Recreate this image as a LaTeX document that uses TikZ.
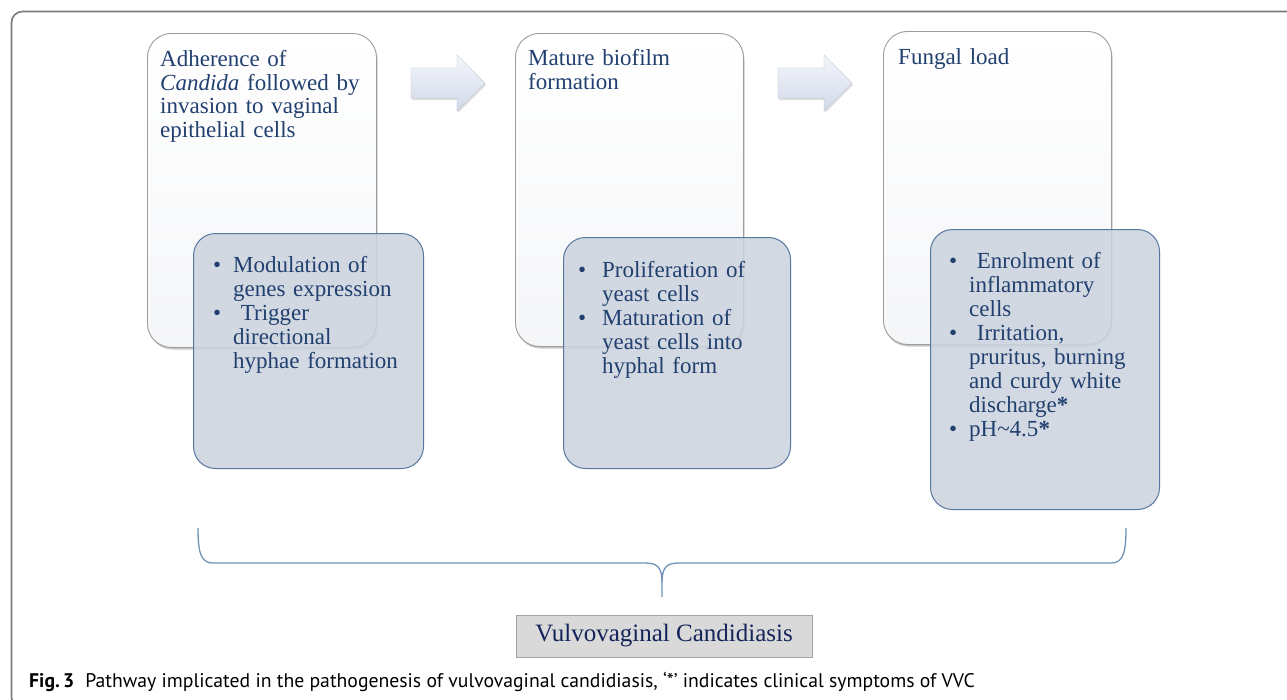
\documentclass[tikz,border=0pt]{standalone}
\usepackage{fontspec}
\setmainfont{Liberation Serif}
\newfontfamily\capfont{PT Sans}
\definecolor{framegray}{HTML}{7A7A7A}
\definecolor{wboxline}{HTML}{9C9C9C}
\definecolor{wboxbot}{HTML}{F5F6F8}
\definecolor{bfill}{HTML}{CDD4DF}
\definecolor{bline}{HTML}{56779E}
\definecolor{txtblue}{HTML}{21406F}
\definecolor{vvcblue}{HTML}{14245A}
\definecolor{arrtop}{HTML}{F4F6FB}
\definecolor{arrbot}{HTML}{D2D9EA}
\definecolor{bracecol}{HTML}{6F93B8}
\definecolor{vvcfill}{HTML}{D9D9D9}
\definecolor{vvcline}{HTML}{A3A3A3}
\tikzset{
  whitebox/.style={draw=wboxline, line width=0.9pt, rounded corners=24pt,
    top color=white, bottom color=wboxbot, anchor=north west, inner sep=0pt},
  wshadow/.style={fill=black, opacity=0.22, rounded corners=24pt},
  bluebox/.style={draw=bline, line width=1pt, rounded corners=22pt,
    fill=bfill, fill opacity=0.88, anchor=north west, inner sep=0pt},
  toptext/.style={anchor=base west, inner sep=0pt, text width=215pt, align=left,
    text=txtblue, font=\fontsize{23}{23.5}\selectfont},
  bultext/.style={anchor=base west, inner sep=0pt, text width=200pt, align=left,
    text=txtblue, font=\fontsize{23}{24}\selectfont},
  blockarrow/.style={draw=arrbot!85!black, line width=0.3pt, top color=arrtop, bottom color=arrbot},
  bracestyle/.style={draw=bracecol, line width=1.3pt},
  vvcbox/.style={draw=vvcline, line width=1pt, fill=vvcfill, minimum width=296pt,
    minimum height=42pt, inner sep=0pt, text=vvcblue, font=\fontsize{25}{27}\selectfont},
  captext/.style={anchor=base west, inner sep=0pt, font=\capfont\fontsize{19.7}{22}\selectfont, text=black}
}
\newcommand{\bul}[1]{\leavevmode\llap{\textbullet\hspace{#1}}}
\begin{document}
\begin{tikzpicture}[x=1pt,y=-1pt]
\useasboundingbox (0,0) rectangle (1287,699);
\fill[white] (0,0) rectangle (1287,699);
% outer frame
\draw[framegray, line width=1.6pt, rounded corners=11pt] (1295,11.5) -- (11.5,11.5) -- (11.5,708) -- (40,708);

% white boxes (shadows first)
\fill[wshadow] (148.5,35.5) rectangle (377.5,349.5);
\fill[wshadow] (516.5,35.5) rectangle (744.5,348.5);
\fill[wshadow] (884.5,33.5) rectangle (1112.5,346.5);
\node[whitebox, minimum width=229pt, minimum height=314pt] (w1) at (147,33) {};
\node[whitebox, minimum width=228pt, minimum height=313pt] (w2) at (515,33) {};
\node[whitebox, minimum width=228pt, minimum height=313pt] (w3) at (883,31) {};

\node[toptext] (t1) at (160,66.5) {Adherence of\\\textit{Candida} followed by\\invasion to vaginal\\epithelial cells};
\node[toptext] (t2) at (528,65.5) {Mature biofilm\\formation};
\node[toptext] (t3) at (898,64.5) {Fungal load};

% arrows
\coordinate (a1) at (448,83);
\coordinate (a2) at (815,83);
\foreach \c in {a1,a2}{
  \fill[black, opacity=0.12] ([shift={(-36,-13)}]\c) -- ([shift={(10,-13)}]\c) -- ([shift={(10,-26)}]\c) -- ([shift={(38,2)}]\c) -- ([shift={(10,30)}]\c) -- ([shift={(10,17)}]\c) -- ([shift={(-36,17)}]\c) -- cycle;
  \path[blockarrow] ([shift={(-37,-15)}]\c) -- ([shift={(9,-15)}]\c) -- ([shift={(9,-28)}]\c) -- ([shift={(37,0)}]\c) -- ([shift={(9,28)}]\c) -- ([shift={(9,15)}]\c) -- ([shift={(-37,15)}]\c) -- cycle;
}

% blue boxes
\node[bluebox, minimum width=230pt, minimum height=235pt] (b1) at (193,233) {};
\node[bluebox, minimum width=227pt, minimum height=231pt] (b2) at (563,237) {};
\node[bluebox, minimum width=229pt, minimum height=280pt] (b3) at (930,229) {};

\node[bultext] (l1) at (233,272) {\bul{12pt}Modulation of\\genes expression\\\bul{12pt}\ Trigger\\directional\\hyphae formation};
\node[bultext] (l2) at (602,277) {\bul{16pt}Proliferation of\\yeast cells\\\bul{16pt}Maturation of\\yeast cells into\\hyphal form};
\node[bultext] (l3) at (969,268) {\bul{12pt}\ Enrolment of\\inflammatory\\cells\\\bul{12pt}\ Irritation,\\pruritus, burning\\and curdy white\\discharge\textbf{*}\\\bul{12pt}pH\textasciitilde4.5\textbf{*}};

% brace
\coordinate (bl) at (198,528);
\coordinate (br) at (1126,528);
\coordinate (bt) at (662,597);
\draw[bracestyle] (bl) .. controls (198,553) and (201,563) .. (213,563) -- (645,563)
  .. controls (657,563) and (662,567) .. (662,582) -- (bt);
\draw[bracestyle] (br) .. controls (1126,553) and (1123,563) .. (1111,563) -- (679,563)
  .. controls (667,563) and (662,567) .. (662,582);

% bottom box
\node[vvcbox] (vvc) at (664,636) {Vulvovaginal Candidiasis};

% caption
\node[captext] (cap) at (29,687) {\textbf{Fig.\,3}\hspace{11pt}Pathway implicated in the pathogenesis of vulvovaginal candidiasis, ‘*’ indicates clinical symptoms of VVC};
\end{tikzpicture}
\end{document}
